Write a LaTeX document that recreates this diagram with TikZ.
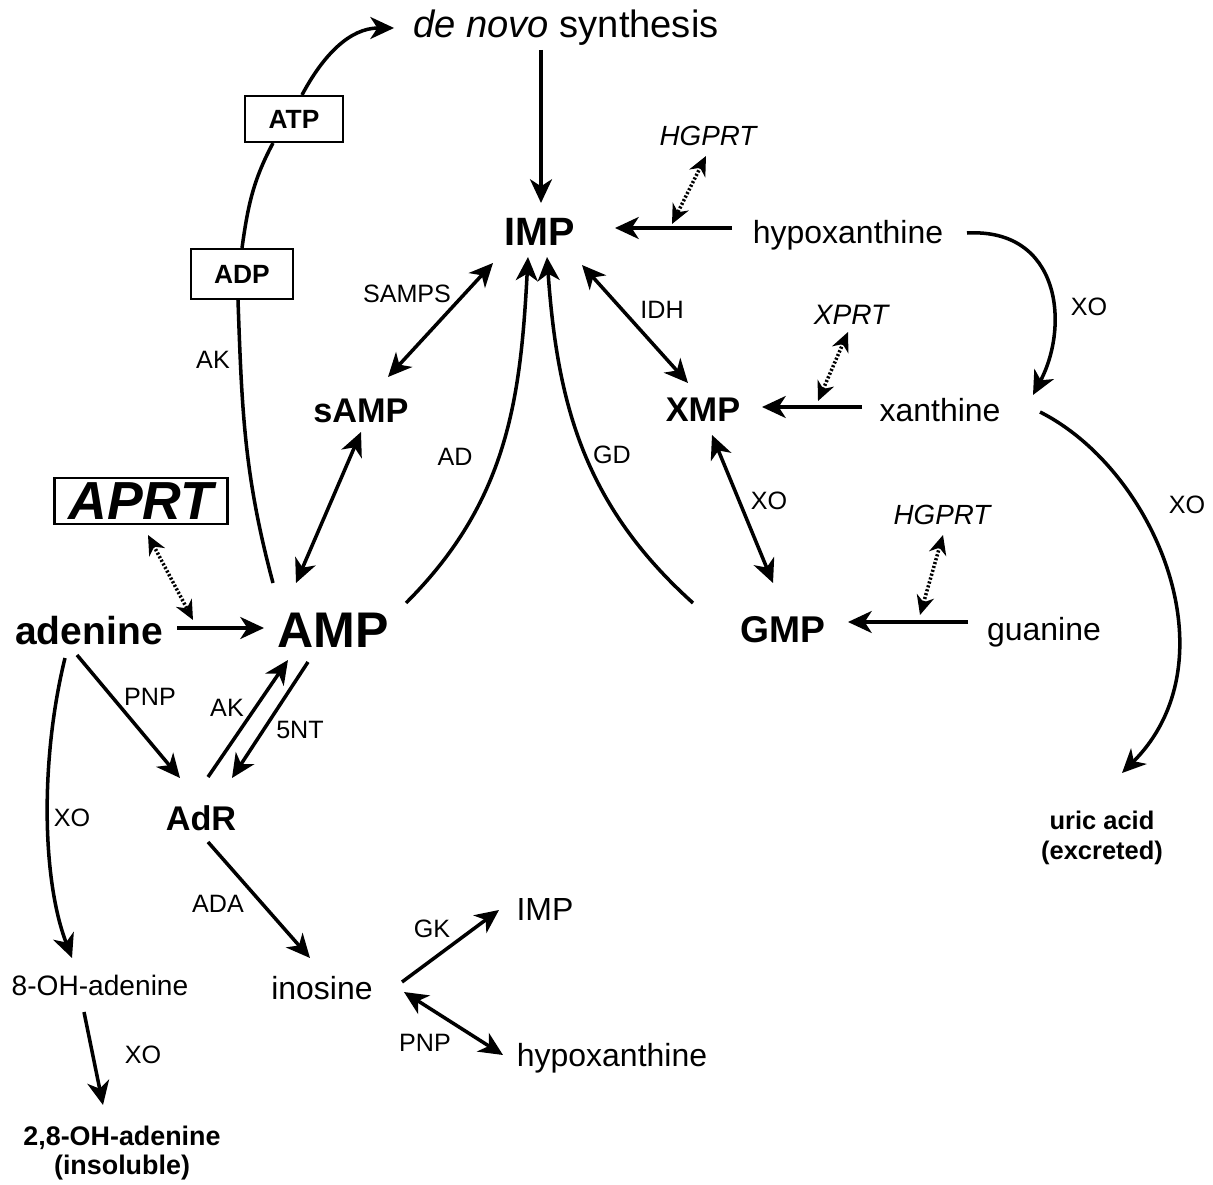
\documentclass[tikz,border=0pt]{standalone}
\usepackage{fontspec}
\setmainfont{Liberation Sans}
\usepackage{tikz}
\usetikzlibrary{arrows.meta}
\tikzset{>={Stealth[length=13.5pt,width=12.5pt,inset=4pt]}}
\newcommand\fsz[2]{\fontsize{#1}{#2}\selectfont}
\tikzstyle{met}=[inner sep=0pt,font=\fsz{18.2}{21}]
\tikzstyle{key}=[inner sep=0pt,font=\bfseries\fsz{19.5}{23}]
\tikzstyle{enz}=[inner sep=0pt,font=\fsz{14.3}{17}]
\tikzstyle{prt}=[inner sep=0pt,font=\itshape\fsz{15.8}{18}]
\tikzstyle{nucbox}=[draw,fill=white,line width=1.2pt,inner sep=0pt,font=\bfseries\fsz{15}{18}]
\tikzstyle{rxn}=[->,line width=2pt]
\tikzstyle{rev}=[<->,line width=2pt]
\tikzstyle{salv}=[<->,line width=2pt,dash pattern=on 1.2pt off 1.1pt,
  >={Stealth[length=11pt,width=10pt,inset=3.5pt]}]

\begin{document}
\begin{tikzpicture}[x=0.02cm,y=-0.02cm]
  \useasboundingbox (0,0) rectangle (1213,1185);
  % species
  \node[met,font=\fsz{21.7}{25}] (denovo) at (566,28) {{\itshape de novo} synthesis};
  \node[key,font=\bfseries\fsz{22.5}{26}] (IMP) at (540,232) {IMP};
  \node[met] (hypoxT) at (848,235) {hypoxanthine};
  \node[prt] (HGPRTa) at (708,136) {HGPRT};
  \node[prt,font=\itshape\fsz{16}{19}] (XPRT) at (851,315) {XPRT};
  \node[key] (XMP) at (703,410) {XMP};
  \node[met] (xanthine) at (940,410) {xanthine};
  \node[key] (sAMP) at (361,411) {sAMP};
  \node[key,font=\bfseries\fsz{28.5}{32}] (AMP) at (333,630) {AMP};
  \node[key,font=\bfseries\fsz{22.2}{26}] (adenine) at (89,631) {adenine};
  \node[draw,line width=1.6pt,minimum width=3.46cm,minimum height=0.92cm,inner sep=0pt,
        font=\bfseries\itshape\fsz{30.5}{34}] (APRT) at (141,501) {APRT};
  \node[nucbox,minimum width=1.96cm,minimum height=0.92cm] (ATP) at (294,119) {ATP};
  \node[nucbox,minimum width=2.04cm,minimum height=1cm] (ADP) at (242,274) {ADP};
  \node[key,font=\bfseries\fsz{21.2}{25}] (GMP) at (783,630) {GMP};
  \node[met] (guanine) at (1044,632) {guanine};
  \node[prt] (HGPRTb) at (942,515) {HGPRT};
  \node[met,font=\bfseries\fsz{14.5}{17},align=center] (uric) at (1102,838) {uric acid\\(excreted)};
  \node[key] (AdR) at (201,818) {AdR};
  \node[met] (IMPb) at (545,909) {IMP};
  \node[met] (inosine) at (322,988) {inosine};
  \node[met] (hypoxB) at (612,1058) {hypoxanthine};
  \node[met,font=\fsz{16}{19}] (OHade) at (100,985) {8-OH-adenine};
  \node[met,font=\bfseries\fsz{15.3}{16.5},align=center] (diOHade) at (122,1153) {2,8-OH-adenine\\(insoluble)};
  % enzymes
  \node[enz] (eSAMPS) at (407,294) {SAMPS};
  \node[enz] (eIDH) at (662,310) {IDH};
  \node[enz] (eXOa) at (1089,307) {XO};
  \node[enz] (eAD) at (455,457) {AD};
  \node[enz] (eGD) at (612,455) {GD};
  \node[enz] (eXOb) at (769,501) {XO};
  \node[enz] (eXOc) at (1187,505) {XO};
  \node[enz] (eAKa) at (213,360) {AK};
  \node[enz] (ePNPa) at (150,697) {PNP};
  \node[enz] (eAKb) at (227,708) {AK};
  \node[enz] (e5NT) at (300,730) {5NT};
  \node[enz] (eXOd) at (72,818) {XO};
  \node[enz] (eADA) at (218,904) {ADA};
  \node[enz] (eGK) at (432,929) {GK};
  \node[enz] (eXOe) at (143,1055) {XO};
  \node[enz] (ePNPb) at (425,1043) {PNP};
  % points where the salvage enzymes meet a reaction
  \coordinate (onhyp) at ([shift={(-176,-11)}]hypoxT.center);
  \coordinate (onxan) at ([shift={(-122,-9)}]xanthine.center);
  \coordinate (ongua) at ([shift={(-124,-17)}]guanine.center);
  \coordinate (onade) at ([shift={(104,-11)}]adenine.center);

  % upper part
  \draw[rxn] ([shift={(-25,22)}]denovo.center) -- ([shift={(1,-29)}]IMP.center);
  \draw[rxn] ([shift={(-116,-7)}]hypoxT.center) -- ([shift={(75,-4)}]IMP.center);
  \draw[salv] ([shift={(-2,20)}]HGPRTa.center) -- (onhyp);
  \draw[rev] ([shift={(-47,31)}]IMP.center) -- ([shift={(27,-34)}]sAMP.center);
  \draw[rev] ([shift={(0,21)}]sAMP.center) -- ([shift={(-37,-47)}]AMP.center);
  \draw[rxn] ([shift={(73,-27)}]AMP.center) to[out=45,in=-93] ([shift={(-12,25)}]IMP.center);
  \draw[rxn] ([shift={(-90,-27)}]GMP.center) to[out=138,in=-86] ([shift={(7,25)}]IMP.center);
  \draw[rev] ([shift={(42,33)}]IMP.center) -- ([shift={(-15,-27)}]XMP.center);
  \draw[rxn] ([shift={(119,-2)}]hypoxT.center) .. controls (1060,228) and (1070,325) .. ([shift={(93,-15)}]xanthine.center);
  \draw[rxn] ([shift={(-78,-3)}]xanthine.center) -- ([shift={(59,-3)}]XMP.center);
  \draw[salv] ([shift={(-3,17)}]XPRT.center) -- (onxan);
  \draw[rev] ([shift={(9,25)}]XMP.center) -- ([shift={(-10,-47)}]GMP.center);
  \draw[rxn] ([shift={(100,2)}]xanthine.center) .. controls (1155,470) and (1235,660) .. ([shift={(20,-65)}]uric.center);
  \draw[rxn] ([shift={(-76,-10)}]guanine.center) -- ([shift={(65,-8)}]GMP.center);
  \draw[salv] ([shift={(1,20)}]HGPRTb.center) -- (ongua);
  % AMP, ADP, ATP and back to de novo synthesis
  \draw[line width=2pt] ([shift={(-60,-47)}]AMP.center) to[out=105,in=-88] ([shift={(-4,0)}]ADP.south);
  \draw[line width=2pt] (ADP.north) to[out=82,in=-118] ([shift={(-21,0)}]ATP.south);
  \draw[rxn] ([shift={(8,0)}]ATP.north) to[out=62,in=180] ([shift={(-19,0)}]denovo.west);
  % adenine side
  \draw[salv] ([shift={(7,34)}]APRT.center) -- (onade);
  \draw[rxn] ([shift={(88,-3)}]adenine.center) -- ([shift={(-69,-2)}]AMP.center);
  \draw[rxn] ([shift={(-12,24)}]adenine.center) -- ([shift={(-21,-40)}]AdR.center);
  \draw[rxn] ([shift={(7,-41)}]AdR.center) -- ([shift={(-45,30)}]AMP.center);
  \draw[rxn] ([shift={(-25,32)}]AMP.center) -- ([shift={(31,-40)}]AdR.center);
  \draw[rxn] ([shift={(-24,27)}]adenine.center) .. controls (40,760) and (42,880) .. ([shift={(-28,-27)}]OHade.center);
  \draw[rxn] ([shift={(-16,27)}]OHade.center) -- ([shift={(-19,-48)}]diOHade.center);
  \draw[rxn] ([shift={(7,24)}]AdR.center) -- ([shift={(-12,-30)}]inosine.center);
  \draw[rxn] ([shift={(80,-6)}]inosine.center) -- ([shift={(-46,1)}]IMPb.center);
  \draw[rev] ([shift={(82,4)}]inosine.center) -- ([shift={(-109,-3)}]hypoxB.center);
\end{tikzpicture}
\end{document}
